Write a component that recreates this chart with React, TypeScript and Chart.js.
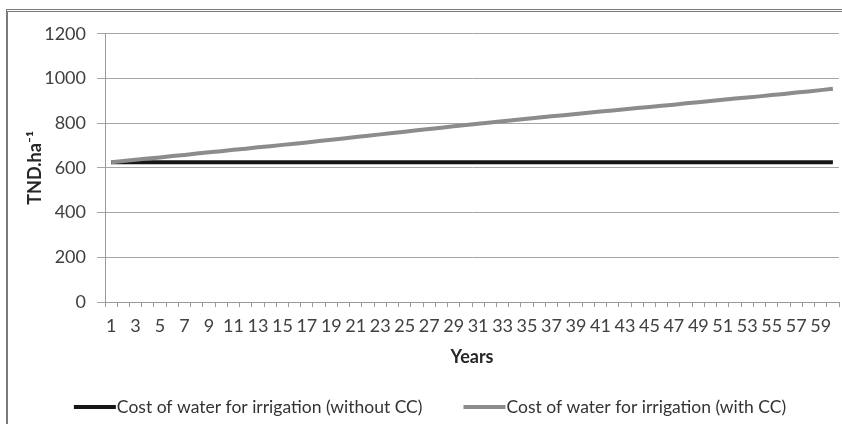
import React, { useEffect, useRef } from "react";
import { Chart, registerables } from "chart.js";

Chart.register(...registerables);

const years: string[] = [
  "1", "2", "3", "4", "5", "6", "7", "8", "9", "10",
  "11", "12", "13", "14", "15", "16", "17", "18", "19", "20",
  "21", "22", "23", "24", "25", "26", "27", "28", "29", "30",
  "31", "32", "33", "34", "35", "36", "37", "38", "39", "40",
  "41", "42", "43", "44", "45", "46", "47", "48", "49", "50",
  "51", "52", "53", "54", "55", "56", "57", "58", "59", "60",
];

const costWithoutCC: number[] = [
  625, 625, 625, 625, 625, 625, 625, 625, 625, 625,
  625, 625, 625, 625, 625, 625, 625, 625, 625, 625,
  625, 625, 625, 625, 625, 625, 625, 625, 625, 625,
  625, 625, 625, 625, 625, 625, 625, 625, 625, 625,
  625, 625, 625, 625, 625, 625, 625, 625, 625, 625,
  625, 625, 625, 625, 625, 625, 625, 625, 625, 625,
];

const costWithCC: number[] = [
  625, 631, 636, 642, 647, 653, 658, 664, 670, 675,
  681, 686, 692, 697, 703, 708, 714, 720, 726, 732,
  738, 744, 750, 756, 762, 768, 774, 780, 786, 792,
  798, 803, 809, 814, 820, 825, 831, 836, 841, 847,
  852, 857, 862, 868, 873, 878, 883, 889, 894, 899,
  905, 910, 915, 920, 926, 931, 937, 942, 948, 954,
];

const seriesLabels: string[] = [
  "Cost of water for irrigation (without CC)",
  "Cost of water for irrigation (with CC)",
];

const yTitle = "TND.ha\u207B\u00B9";
const xTitle = "Years";

const FONT = "Lato, 'Open Sans', sans-serif";

const bottomLegend = {
  id: "bottomLegend",
  afterDraw(chart: any) {
    const ctx: CanvasRenderingContext2D = chart.ctx;
    ctx.save();
    ctx.font = `17.5px ${FONT}`;
    const sample = 42;
    const gapText = 1;
    const gapItem = 41;
    const items = chart.data.datasets.map((ds: any) => ({
      label: ds.label as string,
      color: ds.borderColor as string,
      w: ctx.measureText(ds.label).width,
    }));
    const total =
      items.reduce((s: number, it: any) => s + sample + gapText + it.w, 0) +
      gapItem * (items.length - 1);
    let x = chart.width / 2 + 5 - total / 2;
    const y = chart.height - 17;
    items.forEach((it: any) => {
      ctx.strokeStyle = it.color;
      ctx.lineWidth = 4;
      ctx.beginPath();
      ctx.moveTo(x, y);
      ctx.lineTo(x + sample, y);
      ctx.stroke();
      ctx.fillStyle = "#333333";
      ctx.textBaseline = "middle";
      ctx.textAlign = "left";
      ctx.fillText(it.label, x + sample + gapText, y);
      x += sample + gapText + it.w + gapItem;
    });
    ctx.restore();
  },
};

export default function App() {
  const canvasRef = useRef<HTMLCanvasElement | null>(null);

  useEffect(() => {
    if (!canvasRef.current) return;
    const chart = new Chart(canvasRef.current, {
      type: "line",
      data: {
        labels: years,
        datasets: [
          {
            label: seriesLabels[0],
            data: costWithoutCC,
            borderColor: "#161616",
            backgroundColor: "#161616",
            borderWidth: 4,
            pointRadius: 0,
            tension: 0,
            order: 1,
          },
          {
            label: seriesLabels[1],
            data: costWithCC,
            borderColor: "#8c8c8c",
            backgroundColor: "#8c8c8c",
            borderWidth: 4,
            pointRadius: 0,
            tension: 0,
            order: 0,
          },
        ],
      },
      options: {
        animation: false,
        responsive: false,
        maintainAspectRatio: false,
        layout: { padding: { left: 0, right: 3, top: 20, bottom: 0 } },
        plugins: {
          legend: { display: false },
          tooltip: { enabled: false },
        },
        scales: {
          x: {
            type: "category",
            offset: true,
            grid: {
              offset: true,
              drawOnChartArea: false,
              drawTicks: true,
              tickLength: 5,
              color: "#9a9a9a",
            },
            border: { display: true, color: "#9a9a9a", width: 1 },
            ticks: {
              autoSkip: false,
              maxRotation: 0,
              minRotation: 0,
              padding: 8,
              color: "#404040",
              font: { family: FONT, size: 18 },
              callback: (_v: any, i: number) => (i % 2 === 0 ? years[i] : ""),
            },
            title: {
              display: true,
              text: xTitle,
              color: "#262626",
              font: { family: FONT, size: 18, weight: "bold" },
              padding: { top: 0, bottom: 56 },
            },
            afterFit: (scale: any) => {
              scale.height = 122;
            },
          },
          y: {
            min: 0,
            max: 1200,
            ticks: {
              stepSize: 200,
              padding: 11,
              color: "#404040",
              font: { family: FONT, size: 18 },
              callback: (v: any) => String(v),
            },
            grid: {
              color: "#a6a6a6",
              drawTicks: true,
              tickLength: 8,
              lineWidth: 1,
            },
            border: { display: true, color: "#9a9a9a", width: 1 },
            title: {
              display: true,
              text: yTitle,
              color: "#262626",
              font: { family: FONT, size: 18, weight: "bold" },
              padding: { top: 16, bottom: 0 },
            },
            afterFit: (scale: any) => {
              scale.width = 97;
            },
          },
        },
      },
      plugins: [bottomLegend],
    });
    return () => chart.destroy();
  }, []);

  return (
    <div
      style={{
        position: "absolute",
        left: 6,
        top: 9,
        width: 836,
        height: 415,
        borderTop: "3px double #7a7a7a",
        borderLeft: "2px solid #7a7a7a",
        overflow: "hidden",
        background: "#ffffff",
      }}
    >
      <canvas ref={canvasRef} width={834} height={412} style={{ display: "block" }} />
    </div>
  );
}
